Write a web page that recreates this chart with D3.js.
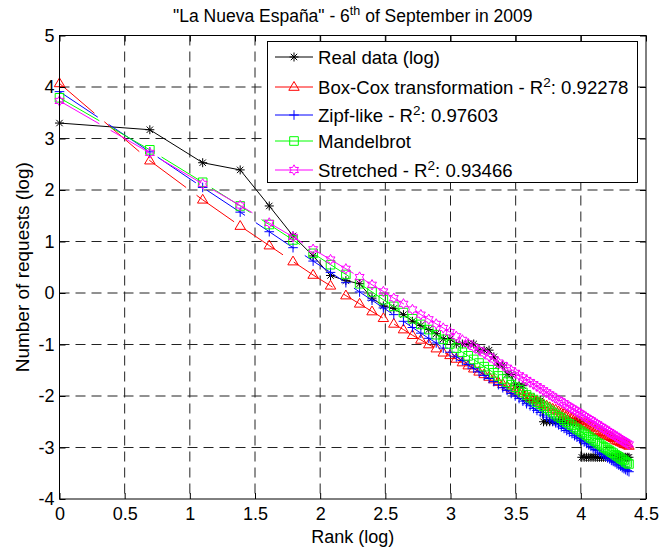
<!DOCTYPE html>
<html lang="en">
<head>
<meta charset="UTF-8">
<title>La Nueva España - rank plot</title>
<script src="https://d3js.org/d3.v7.min.js"></script>
<style>
  body { margin: 0; background: #fff; }
  text { font-family: "Liberation Sans", Arial, Helvetica, sans-serif; fill: #000; }
  .grid line { stroke: #222; stroke-width: 1; stroke-dasharray: 10,6; }
  .axis path { display: none; }
  .axis line { stroke: #000; }
  .axis text { font-size: 18px; font-family: "Liberation Sans", Arial, sans-serif; }
</style>
</head>
<body>
<svg id="chart" width="660" height="548"></svg>
<script>
// ranks (x axis is the natural log of the rank)
const ranks = [1,2,3,4,5,6,7,8,9,10,11,12,13,14,15,16,17,18,19,20,
  21,22,23,24,25,26,27,28,29,30,31,32,33,34,35,36,37,38,39,40,
  41,42,43,44,45,46,47,48,49,50,51,52,53,54,55,56,57,58,59,60,
  61,62,63,64,65,66,67,68,69,70,71,72,73,74,75,76,77,78,79];

// log of number of requests
const realData = [3.30,3.17,2.53,2.39,1.69,1.11,0.72,0.34,0.24,0.18,
  -0.10,-0.25,-0.30,-0.42,-0.55,-0.63,-0.71,-0.79,-0.89,-0.89,
  -0.99,-0.99,-0.99,-0.99,-1.11,-1.11,-1.11,-1.24,-1.40,-1.40,
  -1.58,-1.58,-1.80,-1.80,-1.80,-2.09,-2.09,-2.09,-2.09,-2.09,
  -2.50,-2.50,-2.50,-2.50,-2.50,-2.50,-2.50,-2.50,-2.50,-2.50,
  -2.50,-2.50,-2.50,-2.50,-3.19,-3.19,-3.19,-3.19,-3.19,-3.19,
  -3.19,-3.19,-3.19,-3.19,-3.19,-3.19,-3.19,-3.19,-3.19,-3.19,
  -3.19,-3.19,-3.19,-3.19,-3.19,-3.19,-3.19,-3.19,-3.19];

const boxCox = [4.07,2.57,1.81,1.30,0.92,0.61,0.35,0.14,-0.05,-0.21,
  -0.36,-0.49,-0.60,-0.71,-0.82,-0.91,-1.00,-1.08,-1.16,-1.21,
  -1.28,-1.35,-1.41,-1.47,-1.53,-1.58,-1.63,-1.68,-1.73,-1.77,
  -1.82,-1.86,-1.90,-1.94,-1.98,-1.99,-2.03,-2.06,-2.09,-2.13,
  -2.16,-2.19,-2.22,-2.25,-2.27,-2.30,-2.33,-2.35,-2.38,-2.40,
  -2.43,-2.45,-2.47,-2.49,-2.52,-2.54,-2.56,-2.58,-2.60,-2.62,
  -2.66,-2.68,-2.70,-2.71,-2.73,-2.75,-2.77,-2.78,-2.80,-2.82,
  -2.85,-2.87,-2.88,-2.90,-2.91,-2.93,-2.94,-2.95,-2.97];

const zipf = [3.91,2.74,2.05,1.57,1.19,0.88,0.62,0.40,0.20,0.02,
  -0.14,-0.29,-0.42,-0.55,-0.67,-0.78,-0.88,-0.97,-1.07,-1.15,
  -1.24,-1.31,-1.39,-1.46,-1.53,-1.60,-1.66,-1.72,-1.78,-1.84,
  -1.89,-1.95,-2.00,-2.05,-2.10,-2.15,-2.19,-2.24,-2.28,-2.32,
  -2.37,-2.41,-2.45,-2.49,-2.52,-2.56,-2.60,-2.63,-2.67,-2.70,
  -2.73,-2.77,-2.80,-2.83,-2.86,-2.89,-2.92,-2.95,-2.98,-3.01,
  -3.04,-3.06,-3.09,-3.12,-3.14,-3.17,-3.20,-3.22,-3.25,-3.27,
  -3.29,-3.32,-3.34,-3.36,-3.39,-3.41,-3.43,-3.45,-3.47];

const mandelbrot = [3.79,2.78,2.15,1.69,1.33,1.03,0.77,0.55,0.36,0.18,
  0.02,-0.13,-0.26,-0.38,-0.50,-0.61,-0.71,-0.81,-0.90,-0.99,
  -1.07,-1.15,-1.22,-1.29,-1.36,-1.43,-1.49,-1.55,-1.61,-1.67,
  -1.73,-1.78,-1.83,-1.88,-1.93,-1.98,-2.03,-2.07,-2.12,-2.16,
  -2.20,-2.24,-2.28,-2.32,-2.36,-2.40,-2.43,-2.47,-2.51,-2.54,
  -2.57,-2.61,-2.64,-2.67,-2.70,-2.73,-2.76,-2.79,-2.82,-2.85,
  -2.88,-2.91,-2.93,-2.96,-2.99,-3.01,-3.04,-3.06,-3.09,-3.11,
  -3.14,-3.16,-3.18,-3.21,-3.23,-3.25,-3.28,-3.30,-3.32];

const stretched = [3.73,2.72,2.12,1.70,1.36,1.09,0.85,0.65,0.47,0.31,
  0.16,0.03,-0.10,-0.21,-0.32,-0.42,-0.51,-0.60,-0.68,-0.76,
  -0.84,-0.91,-0.98,-1.05,-1.11,-1.17,-1.23,-1.29,-1.35,-1.40,
  -1.45,-1.50,-1.55,-1.60,-1.64,-1.69,-1.73,-1.77,-1.81,-1.85,
  -1.89,-1.93,-1.97,-2.01,-2.04,-2.08,-2.11,-2.14,-2.18,-2.21,
  -2.24,-2.27,-2.30,-2.33,-2.36,-2.39,-2.42,-2.45,-2.47,-2.50,
  -2.53,-2.55,-2.58,-2.60,-2.63,-2.65,-2.68,-2.70,-2.73,-2.75,
  -2.77,-2.79,-2.82,-2.84,-2.86,-2.88,-2.90,-2.92,-2.94];

const xTicks = [0,0.5,1,1.5,2,2.5,3,3.5,4,4.5];
const yTicks = [-4,-3,-2,-1,0,1,2,3,4,5];

// legend labels: [text, superscript, rest]
const legendLabels = [
  ["Real data (log)", "", ""],
  ["Box-Cox transformation - R", "2", ": 0.92278"],
  ["Zipf-like - R", "2", ": 0.97603"],
  ["Mandelbrot", "", ""],
  ["Stretched - R", "2", ": 0.93466"]
];

const series = [
  { values: realData,   color: "#000000", marker: "star",     dashed: false },
  { values: boxCox,     color: "#ff0000", marker: "triangle", dashed: true },
  { values: zipf,       color: "#0000ff", marker: "plus",     dashed: true },
  { values: mandelbrot, color: "#00ff00", marker: "square",   dashed: true },
  { values: stretched,  color: "#ff00ff", marker: "hexagram", dashed: true }
];

const svg = d3.select("#chart");
const plotLeft = 59.5, plotRight = 646, plotTop = 35.5, plotBottom = 499;

const x = d3.scaleLinear().domain([0, 4.5]).range([plotLeft, plotRight]);
const y = d3.scaleLinear().domain([-4, 5]).range([plotBottom, plotTop]);

// marker shapes
function markerPath(type) {
  if (type === "star") {
    const s = 4.5, k = 3.2;
    return `M${-s},0H${s}M0,${-s}V${s}M${-k},${-k}L${k},${k}M${-k},${k}L${k},${-k}`;
  }
  if (type === "triangle") return "M0,-5.5L5.2,3.3L-5.2,3.3Z";
  if (type === "plus") return "M-4.8,0H4.8M0,-4.8V4.8";
  if (type === "square") return "M-4.3,-4.3H4.3V4.3H-4.3Z";
  // six pointed star outline
  const pts = [];
  for (let i = 0; i < 12; i++) {
    const a = (-90 + i * 30) * Math.PI / 180;
    const r = i % 2 ? 2.9 : 5.2;
    pts.push([r * Math.cos(a), r * Math.sin(a)]);
  }
  return "M" + pts.map(p => p[0].toFixed(2) + "," + p[1].toFixed(2)).join("L") + "Z";
}

// grid
const grid = svg.append("g").attr("class", "grid");
grid.selectAll(".gx").data(xTicks.slice(1, -1)).enter().append("line")
  .attr("x1", d => x(d)).attr("x2", d => x(d))
  .attr("y1", plotTop).attr("y2", plotBottom);
grid.selectAll(".gy").data(yTicks.slice(1, -1)).enter().append("line")
  .attr("x1", plotLeft).attr("x2", plotRight)
  .attr("y1", d => y(d)).attr("y2", d => y(d));

// series
const line = d3.line()
  .x((d, i) => x(Math.log(ranks[i])))
  .y(d => y(d));

series.forEach(s => {
  svg.append("path")
    .attr("d", line(s.values))
    .attr("fill", "none")
    .attr("stroke", s.color)
    .attr("stroke-width", 1)
    .attr("stroke-dasharray", s.dashed ? "46,13" : null);

  svg.append("g").selectAll("path")
    .data(s.values).enter().append("path")
    .attr("transform", (d, i) => `translate(${x(Math.log(ranks[i]))},${y(d)})`)
    .attr("d", markerPath(s.marker))
    .attr("fill", "none")
    .attr("stroke", s.color)
    .attr("stroke-width", 1);
});

// axes (ticks point inward, like MATLAB); plain hyphen for negatives
const plain = d => String(d);
svg.append("g").attr("class", "axis")
  .attr("transform", `translate(0,${plotBottom})`)
  .call(d3.axisBottom(x).tickValues(xTicks).tickSize(-6).tickPadding(8).tickFormat(plain));
svg.append("g").attr("class", "axis")
  .attr("transform", `translate(${plotLeft},0)`)
  .call(d3.axisLeft(y).tickValues(yTicks).tickSize(-6).tickPadding(5).tickFormat(plain));
svg.append("g").attr("class", "axis")
  .attr("transform", `translate(0,${plotTop})`)
  .call(d3.axisTop(x).tickValues(xTicks).tickSize(-6).tickFormat(""));
svg.append("g").attr("class", "axis")
  .attr("transform", `translate(${plotRight},0)`)
  .call(d3.axisRight(y).tickValues(yTicks).tickSize(-6).tickFormat(""));

svg.append("rect")
  .attr("x", plotLeft).attr("y", plotTop)
  .attr("width", plotRight - plotLeft).attr("height", plotBottom - plotTop)
  .attr("fill", "none").attr("stroke", "#000").attr("stroke-width", 1);

// legend
const lg = svg.append("g");
lg.append("rect")
  .attr("x", 267.5).attr("y", 41.5).attr("width", 370).attr("height", 141)
  .attr("fill", "#fff").attr("stroke", "#000").attr("stroke-width", 1);
const rowY = [57, 87, 115, 141, 170];
series.forEach((s, i) => {
  const ry = rowY[i];
  lg.append("line")
    .attr("x1", 275).attr("x2", 313).attr("y1", ry).attr("y2", ry)
    .attr("stroke", s.color).attr("stroke-width", 1);
  lg.append("path")
    .attr("transform", `translate(294,${ry})`)
    .attr("d", markerPath(s.marker))
    .attr("fill", "none").attr("stroke", s.color);
  const t = lg.append("text")
    .attr("x", 318).attr("y", ry + 6.5)
    .style("font-size", "18.6px");
  const parts = legendLabels[i];
  t.append("tspan").text(parts[0]);
  if (parts[1]) {
    t.append("tspan").attr("dy", -7).style("font-size", "13.5px").text(parts[1]);
    t.append("tspan").attr("dy", 7).text(parts[2]);
  }
});

// title and axis labels
const title = svg.append("text")
  .attr("x", (plotLeft + plotRight) / 2).attr("y", 22)
  .attr("text-anchor", "middle")
  .style("font-size", "17.5px");
title.append("tspan").text("\"La Nueva España\" - 6");
title.append("tspan").attr("dy", -7).style("font-size", "12.5px").text("th");
title.append("tspan").attr("dy", 7).text(" of September in 2009");

svg.append("text")
  .attr("x", (plotLeft + plotRight) / 2).attr("y", 543)
  .attr("text-anchor", "middle")
  .style("font-size", "18px")
  .text("Rank (log)");

svg.append("text")
  .attr("transform", `translate(29,${(plotTop + plotBottom) / 2}) rotate(-90)`)
  .attr("text-anchor", "middle")
  .style("font-size", "19px")
  .text("Number of requests (log)");
</script>
</body>
</html>
